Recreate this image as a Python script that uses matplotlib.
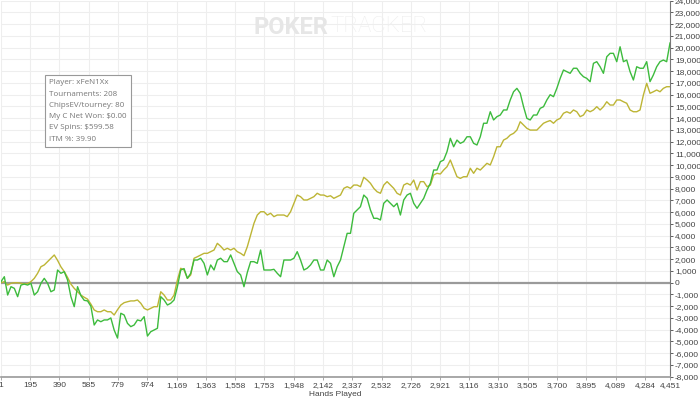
import numpy as np
import matplotlib
matplotlib.use('Agg')
import matplotlib.pyplot as plt
from matplotlib.ticker import FuncFormatter

# Datos (202 muestras de 1 a 4451 manos)
net_won = [
    90, 510, -1050, -340, -480, -1190, -200, -120, -200, -50,
    -1050, -770, -50, 370, -50, -770, -620, 1080, 800, 940,
    230, -1190, -2040, -340, -1100, -1500, -1550, -2000, -3600, -3170,
    -3320, -3170, -3170, -3000, -4030, -4710, -2600, -2750, -3460, -3740,
    -3600, -3170, -3250, -2890, -4540, -4170, -4030, -3880, -1190, -1470,
    -1900, -1750, -1470, -340, 1080, 1200, 370, 800, 1930, 1930,
    2080, 1650, 660, 1510, 1080, 1930, 2080, 1790, 1790, 2360,
    1650, 940, 660, -340, 870, 1790, 1790, 1650, 2780, 1080,
    1080, 1080, 1140, 800, 510, 1930, 1930, 1930, 2080, 2640,
    1930, 1080, 1230, 1510, 1930, 1930, 1080, 1080, 1930, 1650,
    510, 1360, 1930, 3060, 4200, 4200, 5910, 6190, 6470, 7460,
    7180, 6190, 5480, 5480, 5340, 6760, 7040, 6760, 6470, 6760,
    5760, 7040, 7460, 7610, 6760, 6330, 6760, 7180, 7890, 8460,
    9590, 9590, 10300, 10440, 11150, 12290, 11570, 12140, 11860, 12000,
    12420, 12420, 11860, 11720, 12420, 13570, 13570, 14550, 13850, 14130,
    14270, 14700, 14700, 15550, 16250, 16540, 16120, 14980, 13990, 13850,
    14270, 14270, 14840, 14980, 15550, 16000, 15830, 16540, 17390, 18100,
    17960, 17820, 18250, 18250, 17820, 17530, 17390, 17100, 18670, 18810,
    18380, 17820, 19230, 19520, 19520, 18810, 20080, 18810, 18950, 17960,
    17250, 18380, 18250, 18250, 18810, 17110, 17680, 18380, 18810, 18950,
    18810, 20400,
]
ev_won = [
    0, 90, -200, -50, 0, 0, -50, -100, -80, 90,
    370, 800, 1360, 1510, 1790, 2080, 2360, 1900, 1350, 950,
    450, -120, -480, -760, -1050, -1240, -1400, -1820, -2320, -2470,
    -2470, -2320, -2470, -2470, -2750, -2300, -1900, -1700, -1620, -1550,
    -1550, -1470, -1750, -2180, -2320, -2180, -2040, -2040, -770, -1050,
    -1470, -1470, -1050, 230, 1230, 1080, 370, 660, 2080, 2210,
    2360, 2500, 2500, 2640, 2780, 3350, 3100, 2780, 2930, 2780,
    2930, 2640, 2500, 2300, 3060, 4060, 5050, 5760, 6040, 6040,
    5760, 5910, 5620, 5760, 5760, 5760, 5620, 6040, 6760, 7460,
    7320, 7040, 7040, 7180, 7320, 7610, 7460, 7460, 7320, 7400,
    7180, 7320, 7460, 8030, 8170, 8030, 8310, 8310, 8170, 8970,
    8740, 8460, 8030, 7740, 7610, 8310, 8600, 8310, 8030, 7610,
    7460, 8310, 8460, 8310, 8740, 7890, 8600, 8600, 8170, 8310,
    9170, 9310, 9250, 9590, 9870, 10440, 9740, 9020, 8880, 9020,
    9020, 9740, 9310, 9740, 9590, 9870, 10160, 10020, 10720, 11570,
    11570, 12140, 12290, 12570, 12710, 12990, 13700, 13420, 13140, 12990,
    12990, 12990, 13280, 13570, 13700, 13800, 13570, 13850, 13990, 14420,
    14550, 14420, 14700, 14550, 14130, 14270, 14700, 14550, 14700, 14980,
    14700, 14980, 15400, 15120, 15120, 15550, 15550, 15400, 15270, 14700,
    14550, 14550, 14700, 15970, 16970, 16120, 16250, 16400, 16250, 16540,
    16680, 16680,
]
hands = np.linspace(1, 4451, len(net_won))

x_ticks = [1, 195, 390, 585, 779, 974, 1169, 1363, 1558, 1753, 1948, 2142,
           2337, 2532, 2726, 2921, 3116, 3310, 3505, 3700, 3895, 4089, 4284, 4451]
y_ticks = list(range(-8000, 24001, 1000))

info_lines = ["Player: xFeN1Xx", "Tournaments: 208", "ChipsEV/tourney: 80",
              "My C Net Won: $0.00", "EV Spins: $599.58", "ITM %: 39.90"]

plt.rcParams['font.family'] = ['Liberation Sans', 'DejaVu Sans']

fig = plt.figure(figsize=(7, 3.99), dpi=100)
ax = fig.add_axes([1 / 700, 1 - 376.7 / 399, 669 / 700, 376 / 399])

ax.plot(hands, ev_won, color='#bdb535', linewidth=1.0, zorder=3)
ax.plot(hands, net_won, color='#3dbb3d', linewidth=1.0, zorder=4)
ax.axhline(0, color='#9a9a9a', linewidth=1.6, zorder=2)

ax.set_xlim(1, 4451)
ax.set_ylim(-8000, 24000)
ax.set_xticks(x_ticks)
ax.set_yticks(y_ticks)
fmt = FuncFormatter(lambda v, p: f"{int(v):,}")
ax.xaxis.set_major_formatter(fmt)
ax.yaxis.set_major_formatter(fmt)

ax.yaxis.tick_right()
ax.grid(True, color='#eeeeee', linewidth=0.8, zorder=0)
ax.set_axisbelow(True)
for s in ['top', 'left']:
    ax.spines[s].set_visible(False)
ax.spines['right'].set_color('#777777')
ax.spines['bottom'].set_color('#999999')
ax.spines['bottom'].set_linewidth(1.2)
ax.tick_params(axis='both', labelsize=6, colors='#444444', length=2.5, width=0.6, pad=1)
ax.tick_params(axis='x', colors='#999999', labelcolor='#444444', pad=1.5)
ax.set_xlabel("Hands Played", fontsize=6, color='#444444', labelpad=1)

# marca de agua
fig.text(328 / 700, 1 - 27 / 399, "POKER", family='Roboto', fontweight='bold',
         fontsize=17, color='#e6e6e6', ha='right', va='center')
fig.text(330 / 700, 1 - 27 / 399, "TRACKER", family='Roboto', fontweight='light',
         fontsize=16, color='#eeeeee', ha='left', va='center')

# cuadro de info
fig.text(49 / 700, 1 - 111 / 399, "\n".join(info_lines), fontsize=5.8, color='#777777',
         family=['Open Sans', 'DejaVu Sans'], ha='left', va='center', linespacing=1.85,
         bbox=dict(boxstyle='square,pad=0.55', facecolor='white', edgecolor='#999999', linewidth=0.8))

fig.savefig('out.png', dpi=100)
